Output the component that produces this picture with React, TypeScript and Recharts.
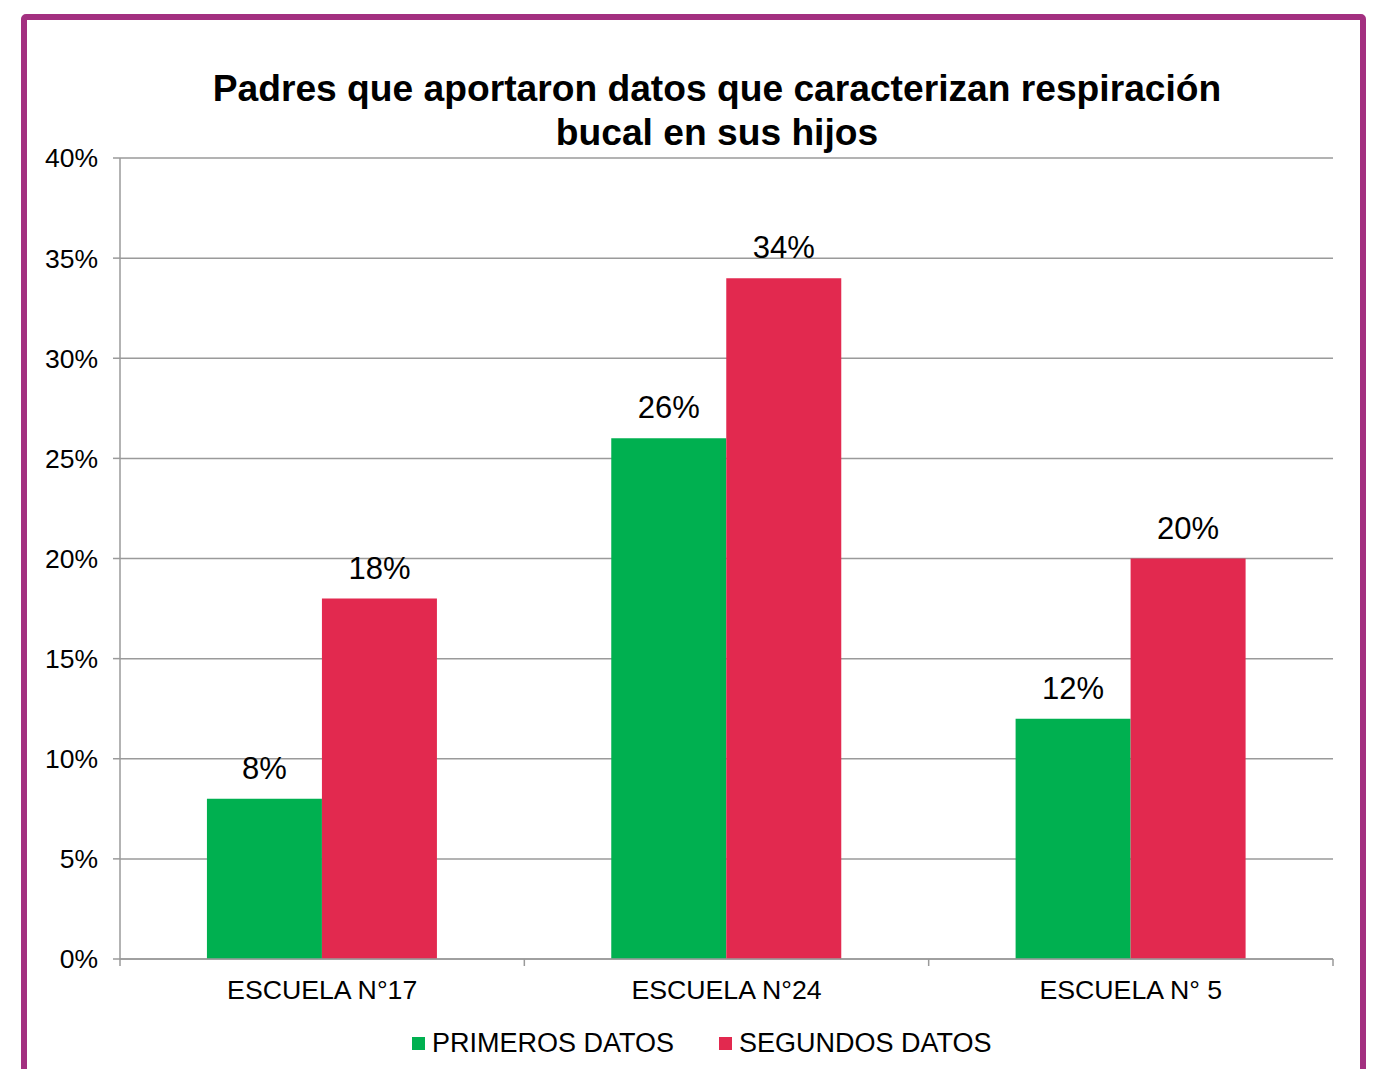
import React from "react";
import { BarChart, Bar, XAxis, YAxis, CartesianGrid, Legend, LabelList } from "recharts";

const categories = ["ESCUELA N°17", "ESCUELA N°24", "ESCUELA N° 5"];
const primerosDatos = [8, 26, 12];
const segundosDatos = [18, 34, 20];
const yTicks = [0, 5, 10, 15, 20, 25, 30, 35, 40];
const seriesNames = ["PRIMEROS DATOS", "SEGUNDOS DATOS"];
const seriesColors = ["#00B050", "#E2294F"];

const data = categories.map((c, i) => ({
  name: c,
  primeros: primerosDatos[i],
  segundos: segundosDatos[i],
}));

const FONT = '"Liberation Sans", Arial, sans-serif';
const AXIS_GRAY = "#9a9a9a";

const XTick = (props: any) => {
  const { x, y, payload, index, visibleTicksCount, width } = props;
  const count = visibleTicksCount || categories.length;
  const band = width ? width / count : 404.3;
  const left = x - band / 2;
  const right = x + band / 2;
  return (
    <g>
      <line x1={left} y1={y} x2={left} y2={y + 7} stroke={AXIS_GRAY} strokeWidth={1.5} />
      {index === count - 1 && (
        <line x1={right} y1={y} x2={right} y2={y + 7} stroke={AXIS_GRAY} strokeWidth={1.5} />
      )}
      <text x={x} y={y + 40} textAnchor="middle" fill="#000" fontSize={26.7} fontFamily={FONT}>
        {payload.value}
      </text>
    </g>
  );
};

const LegendContent = () => (
  <div
    style={{
      height: 50,
      display: "flex",
      alignItems: "flex-start",
      paddingTop: 19,
      boxSizing: "border-box",
      paddingLeft: 412,
      fontFamily: FONT,
      fontSize: 27,
      color: "#000",
    }}
  >
    {seriesNames.map((n, i) => (
      <div key={n} style={{ display: "flex", alignItems: "center", marginRight: i === 0 ? 45 : 0, lineHeight: "30px" }}>
        <span style={{ display: "inline-block", width: 13, height: 13, background: seriesColors[i], marginRight: 7 }} />
        <span>{n}</span>
      </div>
    ))}
  </div>
);

export default function App() {
  return (
    <div style={{ position: "absolute", left: 0, top: 0, width: 1374, height: 1069, overflow: "hidden", background: "#fff" }}>
      <div
        style={{
          position: "absolute",
          left: 21,
          top: 14,
          width: 1345,
          height: 1100,
          boxSizing: "border-box",
          border: "6px solid #A33080",
          borderRadius: 5,
        }}
      />
      <div
        style={{
          position: "absolute",
          left: 0,
          top: 66,
          width: 1434,
          textAlign: "center",
          fontFamily: FONT,
          fontWeight: "bold",
          fontSize: 37.2,
          lineHeight: "44px",
          color: "#000",
        }}
      >
        Padres que aportaron datos que caracterizan respiración
        <br />
        bucal en sus hijos
      </div>
      <div style={{ position: "absolute", left: 0, top: 0 }}>
        <BarChart
          width={1374}
          height={1069}
          data={data}
          margin={{ top: 158, right: 41, left: 0, bottom: 10 }}
          barCategoryGap="21.5%"
          barGap={0}
        >
          <CartesianGrid vertical={false} stroke={AXIS_GRAY} strokeWidth={1.5} />
          <XAxis
            dataKey="name"
            height={50}
            axisLine={{ stroke: AXIS_GRAY, strokeWidth: 1.5 }}
            tickLine={false}
            tickSize={0}
            tickMargin={0}
            tick={<XTick />}
            interval={0}
          />
          <YAxis
            width={120}
            domain={[0, 40]}
            ticks={yTicks}
            interval={0}
            tickFormatter={(v: number) => `${v}%`}
            axisLine={{ stroke: AXIS_GRAY, strokeWidth: 1.5 }}
            tickLine={{ stroke: AXIS_GRAY, strokeWidth: 1.5 }}
            tickSize={7}
            tickMargin={15}
            tick={{ fill: "#000", fontSize: 26.5, fontFamily: FONT }}
          />
          <Legend verticalAlign="bottom" content={<LegendContent />} />
          <Bar dataKey="primeros" name={seriesNames[0]} fill={seriesColors[0]} isAnimationActive={false}>
            <LabelList
              dataKey="primeros"
              position="top"
              offset={20}
              formatter={(v: any) => `${v}%`}
              style={{ fill: "#000", fontSize: 31, fontFamily: FONT }}
            />
          </Bar>
          <Bar dataKey="segundos" name={seriesNames[1]} fill={seriesColors[1]} isAnimationActive={false}>
            <LabelList
              dataKey="segundos"
              position="top"
              offset={20}
              formatter={(v: any) => `${v}%`}
              style={{ fill: "#000", fontSize: 31, fontFamily: FONT }}
            />
          </Bar>
        </BarChart>
      </div>
    </div>
  );
}
